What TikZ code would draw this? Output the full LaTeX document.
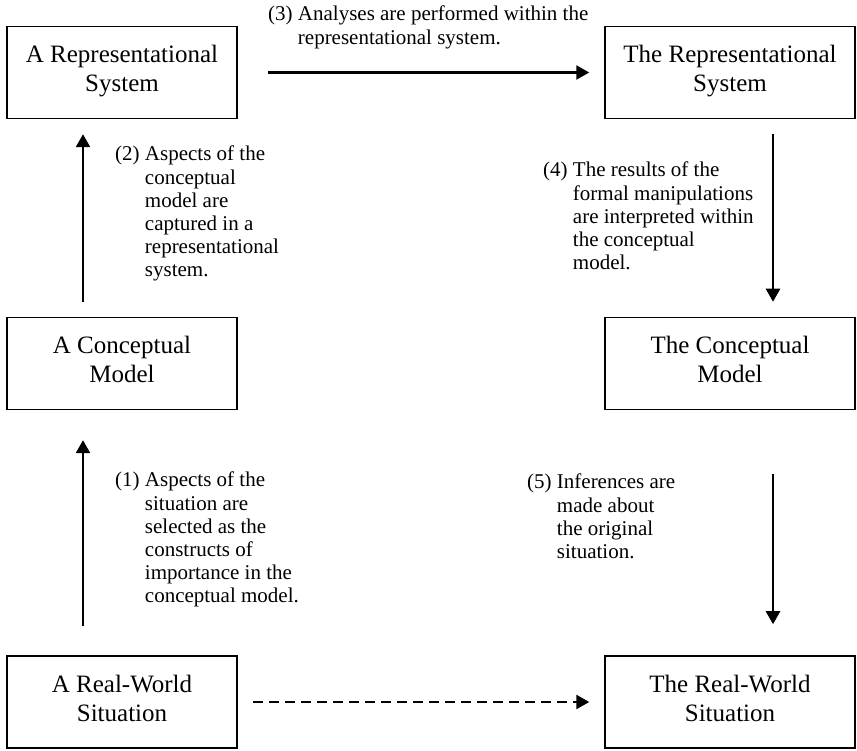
\documentclass[tikz,border=0pt]{standalone}
\usepackage{fontspec}
\setmainfont{Liberation Serif}
\usetikzlibrary{arrows.meta}

% numbered note with hanging lines
\newcommand{\stepnote}[2]{%
  \begin{tabular}[t]{@{}l@{\ }l@{}}#1 & \begin{tabular}[t]{@{}l@{}}#2\end{tabular}\end{tabular}}

\begin{document}
\begin{tikzpicture}
    [x=1pt, y=1pt,
    box/.style={draw, line width=1.5pt, align=center, inner sep=0pt,
        minimum height=92pt, text depth=8pt,
        font=\fontsize{25}{29}\selectfont},
    flow/.style={line width=2.5pt, -{Triangle[length=13pt,width=14pt]}},
    note/.style={anchor=base west, inner sep=0pt,
        font=\fontsize{21}{23.2}\selectfont}]
    \useasboundingbox (0,0) rectangle (857,750);
    % boxes
    \node[box, minimum width=230pt] (repA) at (122,677.5) {A Representational\\System};
    \node[box, minimum width=250pt] (repThe) at (730,677.5) {The Representational\\System};
    \node[box, minimum width=230pt] (conA) at (122,386.5) {A Conceptual\\Model};
    \node[box, minimum width=250pt] (conThe) at (730,386.5) {The Conceptual\\Model};
    \node[box, minimum width=230pt] (realA) at (122,48) {A Real-World\\Situation};
    \node[box, minimum width=250pt] (realThe) at (730,48) {The Real-World\\Situation};
    % arrows
    \draw[flow, shorten <=29pt, shorten >=30pt]
        ([xshift=-39pt]realA.north) -- ([xshift=-39pt]conA.south);
    \draw[flow, shorten <=15pt, shorten >=15pt]
        ([xshift=-39pt]conA.north) -- ([xshift=-39pt]repA.south);
    \draw[flow, shorten <=30pt, shorten >=15pt] (repA.east) -- (repThe.west);
    \draw[flow, shorten <=15pt, shorten >=15pt]
        ([xshift=43pt]repThe.south) -- ([xshift=43pt]conThe.north);
    \draw[flow, shorten <=64pt, shorten >=31pt]
        ([xshift=43pt]conThe.south) -- ([xshift=43pt]realThe.north);
    \draw[flow, dash pattern=on 10pt off 6pt, shorten <=15pt, shorten >=15pt]
        (realA.east) -- (realThe.west);
    % notes
    \node[note] (n1) at (115,263) {\stepnote{(1)}{Aspects of the\\situation are\\selected as the\\constructs of\\importance in the\\conceptual model.}};
    \node[note] (n2) at (115,589) {\stepnote{(2)}{Aspects of the\\conceptual\\model are\\captured in a\\representational\\system.}};
    \node[note] (n3) at (268,729) {\stepnote{(3)}{Analyses are performed within the\\representational system.}};
    \node[note] (n4) at (543,573) {\stepnote{(4)}{The results of the\\formal manipulations\\are interpreted within\\the conceptual\\model.}};
    \node[note] (n5) at (527,261) {\stepnote{(5)}{Inferences are\\made about\\the original\\situation.}};
\end{tikzpicture}
\end{document}
